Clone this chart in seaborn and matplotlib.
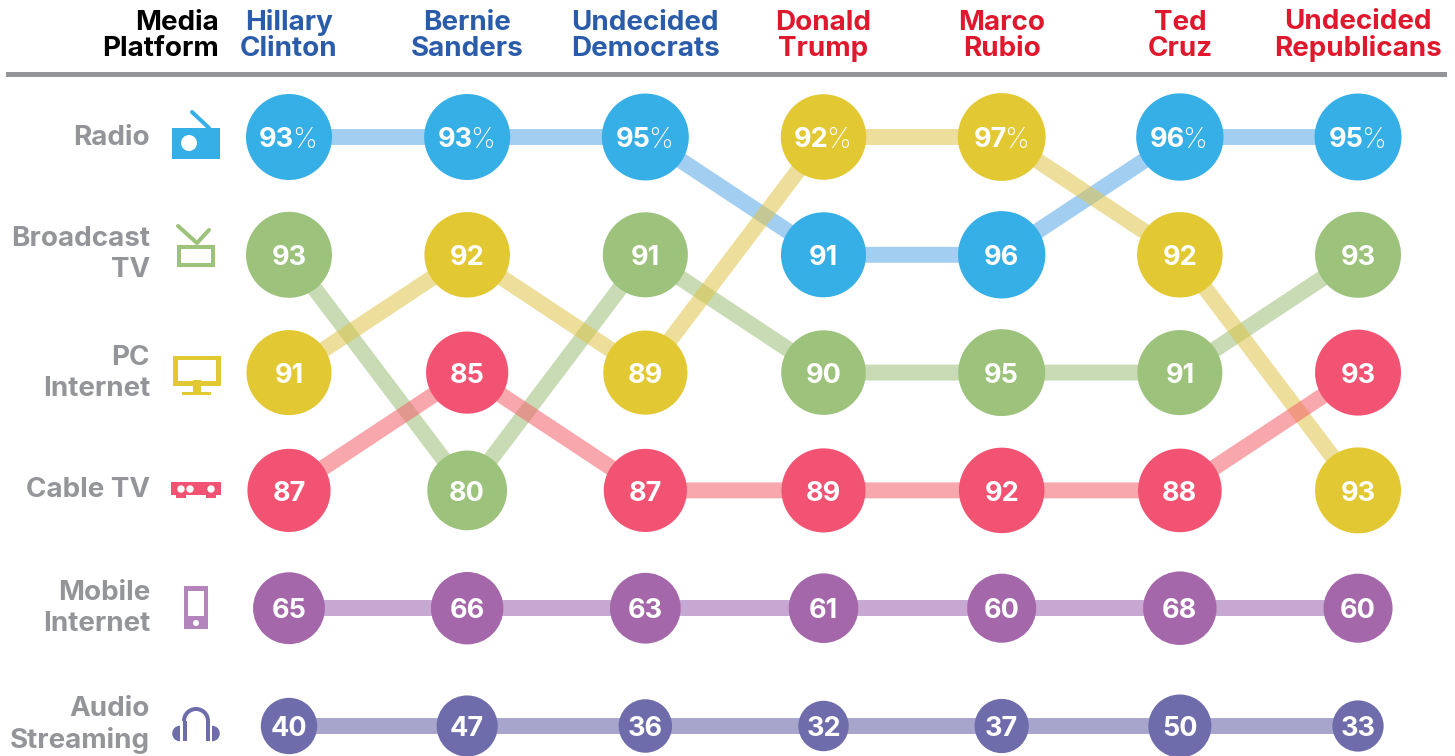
import pandas as pd
import seaborn as sns
import matplotlib.pyplot as plt
from matplotlib.patches import Arc, Circle, Rectangle, Wedge

candidates = ['Hillary\nClinton', 'Bernie\nSanders', 'Undecided\nDemocrats', 'Donald\nTrump',
              'Marco\nRubio', 'Ted\nCruz', 'Undecided\nRepublicans']
candidate_party = ['d', 'd', 'd', 'r', 'r', 'r', 'r']
media = ['Radio', 'Broadcast\nTV', 'PC\nInternet', 'Cable TV', 'Mobile\nInternet', 'Audio\nStreaming']

# share of each group using the platform, and the row it is ranked on
radio = [93, 93, 95, 91, 96, 96, 95]
broadcast = [93, 80, 91, 90, 95, 91, 93]
pc = [91, 92, 89, 92, 97, 92, 93]
cable = [87, 85, 87, 89, 92, 88, 93]
mobile = [65, 66, 63, 61, 60, 68, 60]
audio = [40, 47, 36, 32, 37, 50, 33]

radio_rank = [0, 0, 0, 1, 1, 0, 0]
broadcast_rank = [1, 3, 1, 2, 2, 2, 1]
pc_rank = [2, 1, 2, 0, 0, 1, 3]
cable_rank = [3, 2, 3, 3, 3, 3, 2]
mobile_rank = [4, 4, 4, 4, 4, 4, 4]
audio_rank = [5, 5, 5, 5, 5, 5, 5]

values = [radio, broadcast, pc, cable, mobile, audio]
ranks = [radio_rank, broadcast_rank, pc_rank, cable_rank, mobile_rank, audio_rank]

dot_colors = ['#36AEE6', '#9DC27C', '#E2C934', '#F35372', '#A467AA', '#6E6CAB']
line_colors = ['#57A9E7', '#9BBF78', '#E0C449', '#F4616B', '#9762AD', '#625BA4']
GREY = '#939598'
FONT = 'Inter'

rows = []
for m, name in enumerate(media):
    for c in range(len(candidates)):
        rows.append({'medium': name, 'col': c, 'rank': ranks[m][c], 'value': values[m][c]})
df = pd.DataFrame(rows)

sns.set_theme(style='white')
plt.rcParams['font.family'] = [FONT, 'DejaVu Sans']

fig = plt.figure(figsize=(14.55, 7.56), dpi=100)
ax = fig.add_axes([0, 0, 1, 1])

sns.lineplot(data=df, x='col', y='rank', hue='medium', hue_order=media, palette=line_colors,
             estimator=None, sort=False, linewidth=11.5, alpha=0.55, solid_capstyle='butt',
             legend=False, ax=ax, zorder=1)
# dot area follows the value
sns.scatterplot(data=df, x='col', y='rank', hue='medium', hue_order=media, palette=dot_colors,
                size='value', size_norm=(32, 97), sizes=(41.2 * 32, 41.2 * 97),
                linewidth=0, alpha=1, legend=False, ax=ax, zorder=2)

ax.set_xlim(-289 / 178.17, (1455 - 289) / 178.17)
ax.set_ylim((756 - 137) / 117.8, -137 / 117.8)
ax.axis('off')

for _, row in df.iterrows():
    if row['rank'] == 0:
        ax.annotate(str(row['value']), (row['col'], row['rank']), xytext=(3.8, -2.3), textcoords='offset points',
                    ha='right', va='center', color='white', fontsize=19.5, fontweight='bold', zorder=3)
        ax.annotate('%', (row['col'], row['rank']), xytext=(1.9, -2.3), textcoords='offset points',
                    ha='left', va='center', color='white', fontsize=20, fontweight='light', zorder=3)
    else:
        ax.annotate(str(row['value']), (row['col'], row['rank']), xytext=(0, -2.3), textcoords='offset points',
                    ha='center', va='center', color='white', fontsize=19.5, fontweight='bold', zorder=3)

for c, name in enumerate(candidates):
    color = '#2A5CAA' if candidate_party[c] == 'd' else '#E0182D'
    ax.text(c, (56 - 137) / 117.8, name, ha='center', va='baseline', color=color,
            fontsize=20, fontweight='bold', linespacing=1.0)

# header, rule, row labels and icons sit on a pixel overlay
px = fig.add_axes([0, 0, 1, 1])
px.set_xlim(0, 1455)
px.set_ylim(756, 0)
px.axis('off')
px.patch.set_alpha(0)

px.text(219, 56, 'Media\nPlatform', ha='right', va='baseline', color='black', fontsize=20,
        fontweight='bold', linespacing=1.0)
px.add_patch(Rectangle((6, 72), 1441, 5, color='#929497', lw=0))

label_base = [145, 277, 396, 497, 631, 748]
for name, y in zip(media, label_base):
    px.text(150, y, name, ha='right', va='baseline', color=GREY, fontsize=20, fontweight='bold', linespacing=1.23)


def box(x0, y0, x1, y1, color):
    px.add_patch(Rectangle((x0, y0), x1 - x0, y1 - y0, color=color, lw=0))


def dot(x, y, r, color='white'):
    px.add_patch(Circle((x, y), r, color=color, lw=0))


def stick(xs, ys, color, width):
    px.plot(xs, ys, color=color, lw=width * 0.72, solid_capstyle='round')


# radio
box(172, 128, 220, 159, dot_colors[0])
dot(189, 143, 8)
stick([192, 209], [112, 128], dot_colors[0], 4)
# tv
box(177, 245, 215, 267, dot_colors[1])
box(181, 249, 211, 263, 'white')
stick([178, 197, 209], [226, 243, 230], dot_colors[1], 4)
# pc
box(173, 356, 221, 386, dot_colors[2])
box(178, 360, 216, 381, 'white')
box(193, 380, 201, 393, dot_colors[2])
box(182, 392, 211, 395, dot_colors[2])
# cable box
box(171, 482, 221, 495, dot_colors[3])
box(176, 495, 186, 498, dot_colors[3])
box(206, 495, 216, 498, dot_colors[3])
for x in [181, 190, 211]:
    dot(x, 489, 3.7)
# phone
box(184, 586, 208, 629, '#B385BC')
box(188, 591, 204, 616, 'white')
dot(196, 623, 3)
# headphones
px.add_patch(Arc((196, 721), 24, 24, theta1=180, theta2=360, color=dot_colors[5], lw=2.9))
box(182.5, 721, 186.5, 741, dot_colors[5])
box(205.5, 721, 209.5, 741, dot_colors[5])
px.add_patch(Wedge((180, 733.5), 7.8, 90, 270, color=dot_colors[5], lw=0))
px.add_patch(Wedge((212, 733.5), 7.8, -90, 90, color=dot_colors[5], lw=0))

fig.savefig('out.png', dpi=100)
